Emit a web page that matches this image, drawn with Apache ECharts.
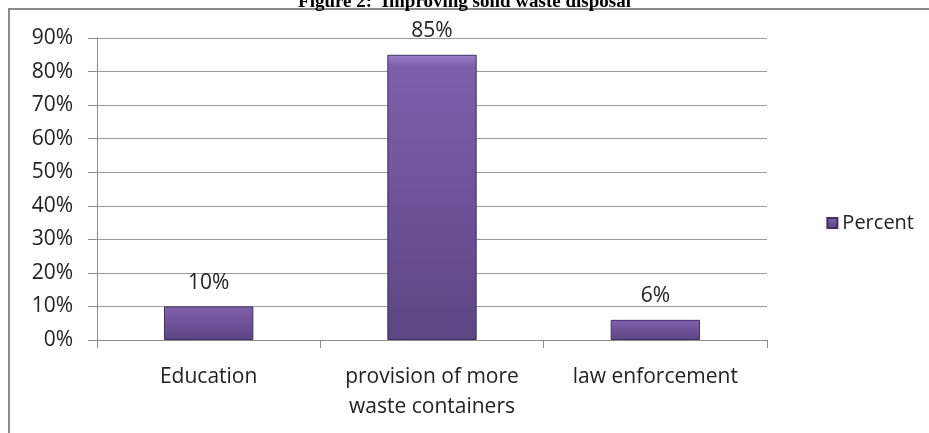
<!DOCTYPE html>
<html><head><meta charset="utf-8">
<script src="https://cdn.jsdelivr.net/npm/echarts@6/dist/echarts.min.js"></script>
<style>
html,body{margin:0;padding:0;background:#fff;overflow:hidden}
#frame{position:absolute;left:8px;top:8px;width:940px;height:450px;border:2px solid #8a8a8a;box-sizing:border-box}
#c{position:absolute;left:0;top:0;width:929px;height:433px}
</style></head><body>
<div id="frame"></div>
<div id="c"></div>
<script>
const categories = ['Education', 'provision of more\nwaste containers', 'law enforcement'];
const percentValues = [10, 85, 6];
const yTicks = [0, 10, 20, 30, 40, 50, 60, 70, 80, 90];
const seriesName = 'Percent';
const titleText = 'Figure 2:  Improving solid waste disposal';

const chart = echarts.init(document.getElementById('c'));
const font = '"Open Sans", Lato, sans-serif';
chart.setOption({
  animation: false,
  title: {
    text: titleText, left: 'center', top: -12,
    textStyle: {fontFamily: '"Liberation Serif", "Times New Roman", serif', fontWeight: 'bold', fontSize: 19, color: '#000'}
  },
  legend: {
    data: [seriesName], right: 10, top: 208, orient: 'vertical',
    icon: 'rect', itemWidth: 10, itemHeight: 10, itemGap: 5,
    textStyle: {fontFamily: font, fontSize: 20, color: '#222'}
  },
  grid: {left: 97, right: 162, top: 38, bottom: 93, containLabel: false},
  xAxis: {
    type: 'category', data: categories,
    axisLine: {lineStyle: {color: '#8c8c8c', width: 1}},
    axisTick: {show: true, length: 8, lineStyle: {color: '#8c8c8c'}},
    axisLabel: {fontFamily: font, fontSize: 21, color: '#222', margin: 22, lineHeight: 30, interval: 0}
  },
  yAxis: {
    type: 'value', min: 0, max: 90, interval: 10,
    axisLine: {show: true, lineStyle: {color: '#8c8c8c'}},
    axisTick: {show: true, length: 9, lineStyle: {color: '#8c8c8c'}},
    splitLine: {lineStyle: {color: '#9a9a9a', width: 1}},
    axisLabel: {fontFamily: font, fontSize: 21, color: '#222', margin: 24,
      formatter: v => yTicks.includes(v) ? v + '%' : ''}
  },
  series: [{
    name: seriesName, type: 'bar', data: percentValues, barWidth: '40%',
    itemStyle: {
      color: {type: 'linear', x: 0, y: 0, x2: 0, y2: 1, colorStops: [
        {offset: 0, color: '#9b7fcb'}, {offset: 0.04, color: '#7e5faa'},
        {offset: 0.5, color: '#6f5299'}, {offset: 1, color: '#5b4583'}]},
      borderColor: '#3f2f63', borderWidth: 1
    },
    label: {show: true, position: 'top', distance: 13, formatter: p => p.value + '%',
      fontFamily: font, fontSize: 21, color: '#222'}
  }]
});
</script>
</body></html>
